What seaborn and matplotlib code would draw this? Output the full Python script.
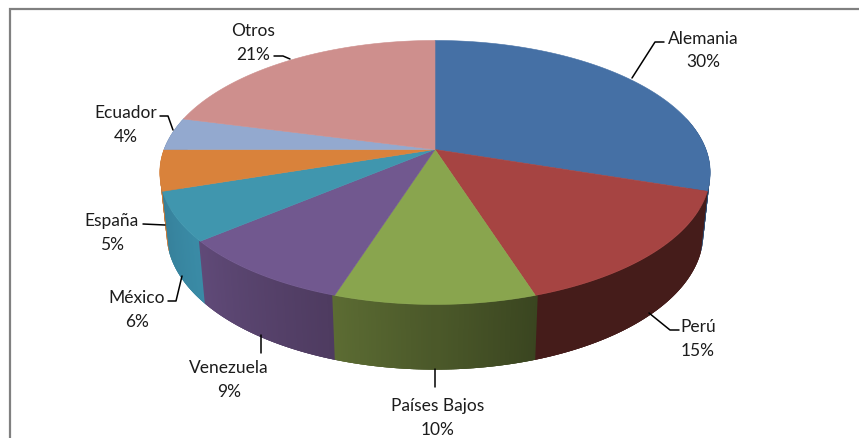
import numpy as np
import pandas as pd
import matplotlib
matplotlib.use('Agg')
import matplotlib.pyplot as plt
import seaborn as sns

# Data
countries = ['Alemania', 'Perú', 'Países Bajos', 'Venezuela', 'México', 'España', 'Ecuador', 'Otros']
shares = [30, 15, 10, 9, 6, 5, 4, 21]
top_colors = ['#4570A5', '#A64442', '#89A54E', '#71588F', '#4096AE', '#D9823B', '#93A9CF', '#CE8F8D']
wall_start = ['#2C4A70', '#451C1A', '#3A4520', '#4E3B60', '#3A8BA6', '#C87A38', '#6D82A5', '#9E6E6D']
wall_end = ['#2C4A70', '#451C1A', '#5C6C33', '#604A78', '#36809A', '#C87A38', '#6D82A5', '#9E6E6D']

sns.set_theme(style='white')
plt.rcParams['font.family'] = ['Lato', 'DejaVu Sans']

df = pd.DataFrame({'country': countries, 'share': shares})
df['end'] = df['share'].cumsum() / df['share'].sum() * 2 * np.pi
df['start'] = df['end'].shift(fill_value=0)


# Tilted-disc projection, angle runs clockwise from the top, result is in pixels
def rim(theta, floor=False):
    px = np.sin(theta)
    py = np.cos(theta)
    w = 1 + 0.174 * py
    x = 271 * px / w
    y = -128 * py / w
    if floor:
        return 435 + 0.975 * x, 211 + 1.03 * y
    return 435 + x, 150.5 + y


fig = plt.figure(figsize=(8.59, 4.39), dpi=100)
ax = fig.add_axes([0, 0, 1, 1])
ax.set_xlim(0, 859)
ax.set_ylim(439, 0)
ax.axis('off')

# chart frame, right and bottom sides fall outside the image
ax.plot([10, 10, 870], [450, 10, 10], color='#808080', lw=1.6, solid_joinstyle='miter')

# Side wall, back strips first so the front ones cover them
step = 0.008
strips = []
for i, row in df.iterrows():
    edges = np.linspace(row['start'], row['end'], int(row['share'] * 8) + 2)
    c0 = np.array(matplotlib.colors.to_rgb(wall_start[i]))
    c1 = np.array(matplotlib.colors.to_rgb(wall_end[i]))
    for a, b in zip(edges[:-1], edges[1:]):
        mid = (a + b) / 2
        if np.cos(mid) > 0.25:
            continue
        t = (mid - row['start']) / (row['end'] - row['start'])
        strips.append((abs(mid - np.pi), a - step, b + step, c0 + (c1 - c0) * t))

for _, a, b, col in sorted(strips, key=lambda s: -s[0]):
    xt, yt = rim(np.array([a, b]))
    xb, yb = rim(np.array([a, b]), floor=True)
    ax.fill([xt[0], xt[1], xb[1], xb[0]], [yt[0], yt[1], yb[1], yb[0]],
            color=col, lw=0, zorder=2)

# Top of the pie
for i, row in df.iterrows():
    xs, ys = rim(np.linspace(row['start'], row['end'], 200))
    ax.fill(np.r_[435, xs], np.r_[150.5, ys], color=top_colors[i], lw=0.4, zorder=3)

# Labels and leader lines
label_xy = [(703, 50.5), (698, 339), (438, 418), (229, 380), (137, 310), (112, 233), (126, 125), (253, 43)]
leaders = [
    [(632, 79), (655, 43), (664, 43)],
    [(649, 314), (670, 331), (679, 331)],
    [(435, 370), (435, 388)],
    [(261, 336), (261, 354)],
    [(182, 277), (176, 302), (168, 302)],
    [(143, 225), (165, 226)],
    [(173, 131), (168, 117), (160, 117)],
    [(274, 57), (283, 57), (290, 60)],
]
for i, row in df.iterrows():
    ax.text(label_xy[i][0], label_xy[i][1], f"{row['country']}\n{row['share']}%",
            ha='center', va='center', fontsize=12.5, color='#1c1c1c', linespacing=1.55, zorder=5)
    lx, ly = zip(*leaders[i])
    ax.plot(lx, ly, color='black', lw=1.1, zorder=4)

fig.savefig('out.png', dpi=100, facecolor='white')
